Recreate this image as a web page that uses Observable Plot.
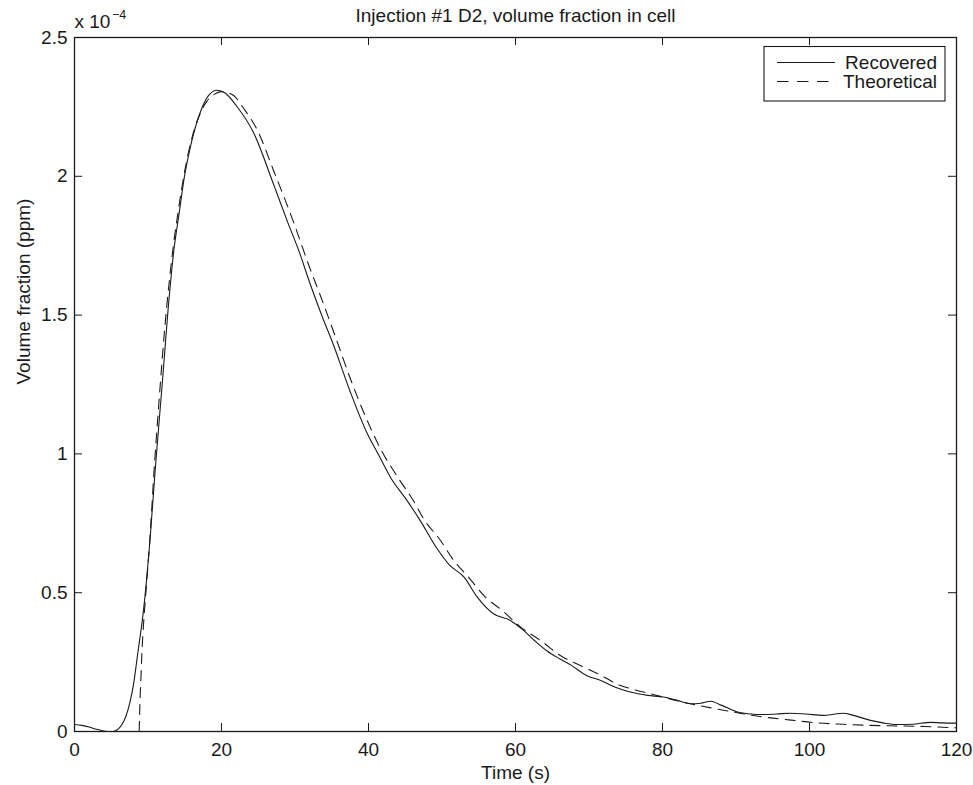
<!DOCTYPE html>
<html>
<head>
<meta charset="utf-8">
<script src="https://cdn.jsdelivr.net/npm/d3@7"></script>
<script src="https://cdn.jsdelivr.net/npm/@observablehq/plot@0.6"></script>
<style>
  html, body { margin: 0; padding: 0; background: #fff; }
  #chart { width: 973px; height: 785px; }
</style>
</head>
<body>
<div id="chart"></div>
<script>
// ---- Data (volume fraction in units of 1e-4) ----
const title = "Injection #1 D2, volume fraction in cell";
const xLabel = "Time (s)";
const yLabel = "Volume fraction (ppm)";
const seriesNames = ["Recovered", "Theoretical"];
const xTicks = [0, 20, 40, 60, 80, 100, 120];
const yTicks = [0, 0.5, 1, 1.5, 2, 2.5];
const yTickLabels = ["0", "0.5", "1", "1.5", "2", "2.5"];

const recoveredT = [0, 1, 2, 3, 4, 5, 5.5, 6, 6.5, 7, 7.5, 8, 8.6, 9.4, 10.3, 11, 11.9, 12.9, 13.5, 14.2, 14.9, 15.8, 17.1, 18.2, 19.4, 20.5, 22, 24.4, 27.1, 29, 30.75, 31.7, 33.7, 35.2, 37.5, 39.8, 41.4, 43, 45.3, 47.1, 49.3, 51, 53, 54.8, 57, 59.3, 61.1, 62.7, 64.3, 66, 67.5, 69.8, 71.6, 73.5, 75.6, 78, 80.1, 82, 83.8, 85.2, 86.5, 88, 90.2, 92, 93.7, 95.5, 97.4, 99.5, 101.9, 103.3, 104.6, 106, 108.3, 110, 111.9, 114, 116.5, 118, 120];
const recoveredV = [0.025, 0.022, 0.016, 0.008, 0.002, 0.0, 0.002, 0.01, 0.027, 0.055, 0.1, 0.165, 0.28, 0.44, 0.70, 0.95, 1.24, 1.57, 1.73, 1.86, 1.99, 2.11, 2.23, 2.29, 2.31, 2.30, 2.255, 2.155, 1.97, 1.835, 1.715, 1.64, 1.495, 1.395, 1.225, 1.075, 0.995, 0.915, 0.83, 0.757, 0.66, 0.60, 0.556, 0.484, 0.424, 0.40, 0.364, 0.325, 0.29, 0.262, 0.24, 0.20, 0.184, 0.16, 0.142, 0.13, 0.124, 0.112, 0.10, 0.102, 0.109, 0.095, 0.07, 0.063, 0.061, 0.063, 0.066, 0.063, 0.058, 0.062, 0.066, 0.058, 0.04, 0.031, 0.025, 0.026, 0.033, 0.031, 0.03];

const theoreticalT = [8.8, 8.9, 9.05, 9.2, 9.4, 9.8, 10.3, 10.8, 11.5, 12.3, 12.97, 13.5, 14.2, 15, 16, 17, 18, 19, 20, 21, 21.7, 23, 24.9, 27.1, 29.8, 31.9, 33.5, 35.5, 37.6, 39.5, 41.6, 44, 46.1, 47.5, 49.8, 51.6, 53.6, 55.9, 58.2, 60.7, 63.4, 66.1, 68.8, 71.8, 73.8, 76, 78.4, 81, 83.8, 87.4, 90.5, 93.8, 97.5, 101, 104.5, 108.3, 112, 115.6, 120];
const theoreticalV = [0, 0.1, 0.2, 0.3, 0.39, 0.53, 0.71, 0.93, 1.19, 1.46, 1.64, 1.76, 1.89, 2.02, 2.14, 2.22, 2.27, 2.295, 2.305, 2.30, 2.29, 2.245, 2.165, 2.02, 1.835, 1.678, 1.567, 1.422, 1.266, 1.14, 1.02, 0.915, 0.832, 0.766, 0.688, 0.616, 0.556, 0.484, 0.436, 0.376, 0.328, 0.274, 0.238, 0.20, 0.171, 0.152, 0.136, 0.117, 0.10, 0.081, 0.066, 0.052, 0.041, 0.031, 0.026, 0.022, 0.02, 0.018, 0.013];

const recovered = recoveredT.map((t, i) => ({t, v: recoveredV[i]}));
const theoretical = theoreticalT.map((t, i) => ({t, v: theoreticalV[i]}));

// ---- Layout ----
const W = 973, H = 785;
const mL = 74, mR = 17, mT = 37, mB = 54;
const frameW = W - mL - mR, frameH = H - mT - mB;
const tickLen = 8;
const ink = "#1a1a1a";
const dash = "10,7";

const chart = Plot.plot({
  width: W,
  height: H,
  marginLeft: mL,
  marginRight: mR,
  marginTop: mT,
  marginBottom: mB,
  style: {fontFamily: "'Liberation Sans', Arial, Helvetica, sans-serif", fontSize: "19px", color: ink, background: "#fff"},
  x: {domain: [0, 120], ticks: xTicks},
  y: {domain: [0, 2.5], ticks: yTicks},
  marks: [
    Plot.line(recovered, {x: "t", y: "v", stroke: ink, strokeWidth: 1.1, curve: "monotone-x"}),
    Plot.line(theoretical, {x: "t", y: "v", stroke: ink, strokeWidth: 1.1, strokeDasharray: dash, curve: "monotone-x"}),
    // inward ticks on all four sides (MATLAB box style)
    Plot.ruleX(xTicks, {x: d => d, stroke: ink, strokeWidth: 1, insetTop: frameH - tickLen}),
    Plot.ruleX(xTicks, {x: d => d, stroke: ink, strokeWidth: 1, insetBottom: frameH - tickLen}),
    Plot.ruleY(yTicks, {y: d => d, stroke: ink, strokeWidth: 1, insetRight: frameW - tickLen}),
    Plot.ruleY(yTicks, {y: d => d, stroke: ink, strokeWidth: 1, insetLeft: frameW - tickLen}),
    Plot.frame({stroke: ink, strokeWidth: 1.3}),
    Plot.axisX({ticks: xTicks, tickSize: 0, tickPadding: 11, label: null, tickFormat: d => String(d)}),
    Plot.axisY({ticks: yTicks, tickSize: 0, tickPadding: 7, label: null, tickFormat: d => yTickLabels[yTicks.indexOf(d)]}),
    Plot.text([title], {frameAnchor: "top", dy: -16, lineAnchor: "bottom", fontSize: 19, fill: ink}),
    Plot.text([xLabel], {frameAnchor: "bottom", dy: 47, lineAnchor: "bottom", fontSize: 19, fill: ink}),
    Plot.text([yLabel], {frameAnchor: "left", dx: -45, rotate: -90, lineAnchor: "bottom", fontSize: 19, fill: ink}),
    Plot.text(["x 10"], {frameAnchor: "top-left", dy: -9.5, textAnchor: "start", lineAnchor: "bottom", fontSize: 19, fill: ink}),
    Plot.text(["\u22124"], {frameAnchor: "top-left", dx: 37.5, dy: -18.7, textAnchor: "start", lineAnchor: "bottom", fontSize: 12.5, fill: ink})
  ]
});

// ---- Legend (inside top-right of the axes box) ----
const svg = d3.select(chart);
const lg = svg.append("g").attr("class", "legend");
const lx = 764, ly = 46.5, lw = 181, lh = 54.5;
lg.append("rect").attr("x", lx).attr("y", ly).attr("width", lw).attr("height", lh)
  .attr("fill", "#fff").attr("stroke", ink).attr("stroke-width", 1.1);
const rows = [{name: seriesNames[0], dashArr: null, y: 62.5}, {name: seriesNames[1], dashArr: dash, y: 81.5}];
rows.forEach(r => {
  const ln = lg.append("line").attr("x1", 777).attr("x2", 835).attr("y1", r.y).attr("y2", r.y)
    .attr("stroke", ink).attr("stroke-width", 1.1);
  if (r.dashArr) ln.attr("stroke-dasharray", "11.5,8.5");
  lg.append("text").attr("x", 937).attr("y", r.y + 6.5).attr("text-anchor", "end")
    .attr("font-size", 19).attr("fill", ink).text(r.name);
});

document.getElementById("chart").appendChild(chart);
</script>
</body>
</html>
